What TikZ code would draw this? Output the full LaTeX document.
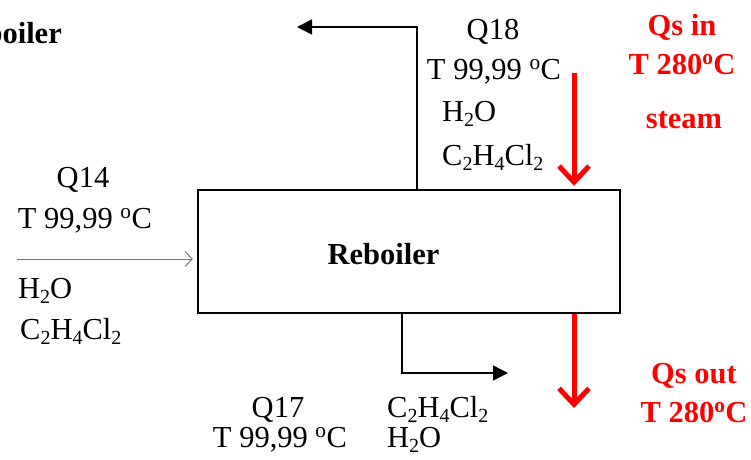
\documentclass[tikz,border=0pt]{standalone}
\usepackage{fontspec}
\setmainfont{Liberation Serif}
\usetikzlibrary{arrows.meta}
\newcommand{\mysub}[1]{\raisebox{-0.18em}{\fontsize{20}{20}\selectfont #1}}
\begin{document}
\begin{tikzpicture}[x=1pt,y=-1pt,
  lbl/.style={font=\fontsize{30.5}{36}\selectfont, inner sep=0pt, anchor=base},
  lblw/.style={lbl, anchor=base west},
  redlbl/.style={lbl, text=red, font=\fontsize{30.5}{36}\selectfont\bfseries},
  unitbox/.style={draw, line width=2.5pt, minimum width=422pt, minimum height=123pt, inner sep=0pt},
  flow/.style={line width=1.5pt, -{Triangle[length=15pt,width=15pt]}},
  steamarrow/.style={draw=red, line width=5pt, -{Straight Barb[length=16pt,width=30pt]}},
  feed/.style={draw=black!55, line width=0.9pt, -{Straight Barb[length=7pt,width=15pt]}}
]
\useasboundingbox (0,0) rectangle (751,459);
\fill[white] (0,0) rectangle (751,459);

\node[unitbox] (box) at (409,251.5) {};
\node[lbl, font=\fontsize{30.5}{36}\selectfont\bfseries] (rebtxt) at (383.5,264) {Reboiler};
\node[lbl, anchor=base east, font=\fontsize{30.5}{36}\selectfont\bfseries] (reboff) at (62,43) {Reboiler};

% top outlet
\coordinate (topbend) at (417,27);
\coordinate (topend) at (297,27);
\draw[flow] (box.north -| topbend) -- (topbend) -- (topend);
\node[lbl] (q18) at (493,39) {Q18};
\node[lbl] (t18) at (494,79) {T 99,99 \textsuperscript{o}C};
\node[lblw] (h18) at (442,121) {H\mysub{2}O};
\node[lblw] (c18) at (442,165) {C\mysub{2}H\mysub{4}Cl\mysub{2}};

% steam in
\coordinate (steamin) at (574,73);
\draw[steamarrow] (steamin) -- ([yshift=3pt]box.north -| steamin);
\node[redlbl] (qsin) at (682,35) {Qs in};
\node[redlbl] (tsin) at (682,74) {T 280\textsuperscript{o}C};
\node[redlbl] (steam) at (684,128) {steam};

% feed
\coordinate (feedin) at (17,259);
\draw[feed, shorten >=4pt] (feedin) -- (box.west |- feedin);
\node[lbl] (q14) at (83,187) {Q14};
\node[lbl] (t14) at (85,228) {T 99,99 \textsuperscript{o}C};
\node[lblw] (h14) at (18,298) {H\mysub{2}O};
\node[lblw] (c14) at (20,339) {C\mysub{2}H\mysub{4}Cl\mysub{2}};

% bottom outlet
\coordinate (botbend) at (402,373);
\coordinate (botend) at (508,373);
\draw[flow] (box.south -| botbend) -- (botbend) -- (botend);
\node[lbl] (q17) at (278,417) {Q17};
\node[lbl] (t17) at (280,447) {T 99,99 \textsuperscript{o}C};
\node[lblw] (c17) at (387,417) {C\mysub{2}H\mysub{4}Cl\mysub{2}};
\node[lblw] (h17) at (387,447) {H\mysub{2}O};

% steam out
\coordinate (steamout) at (574,408);
\draw[steamarrow] (box.south -| steamout) -- (steamout);
\node[redlbl] (qsout) at (694,383) {Qs out};
\node[redlbl] (tsout) at (694,422) {T 280\textsuperscript{o}C};
\end{tikzpicture}
\end{document}
